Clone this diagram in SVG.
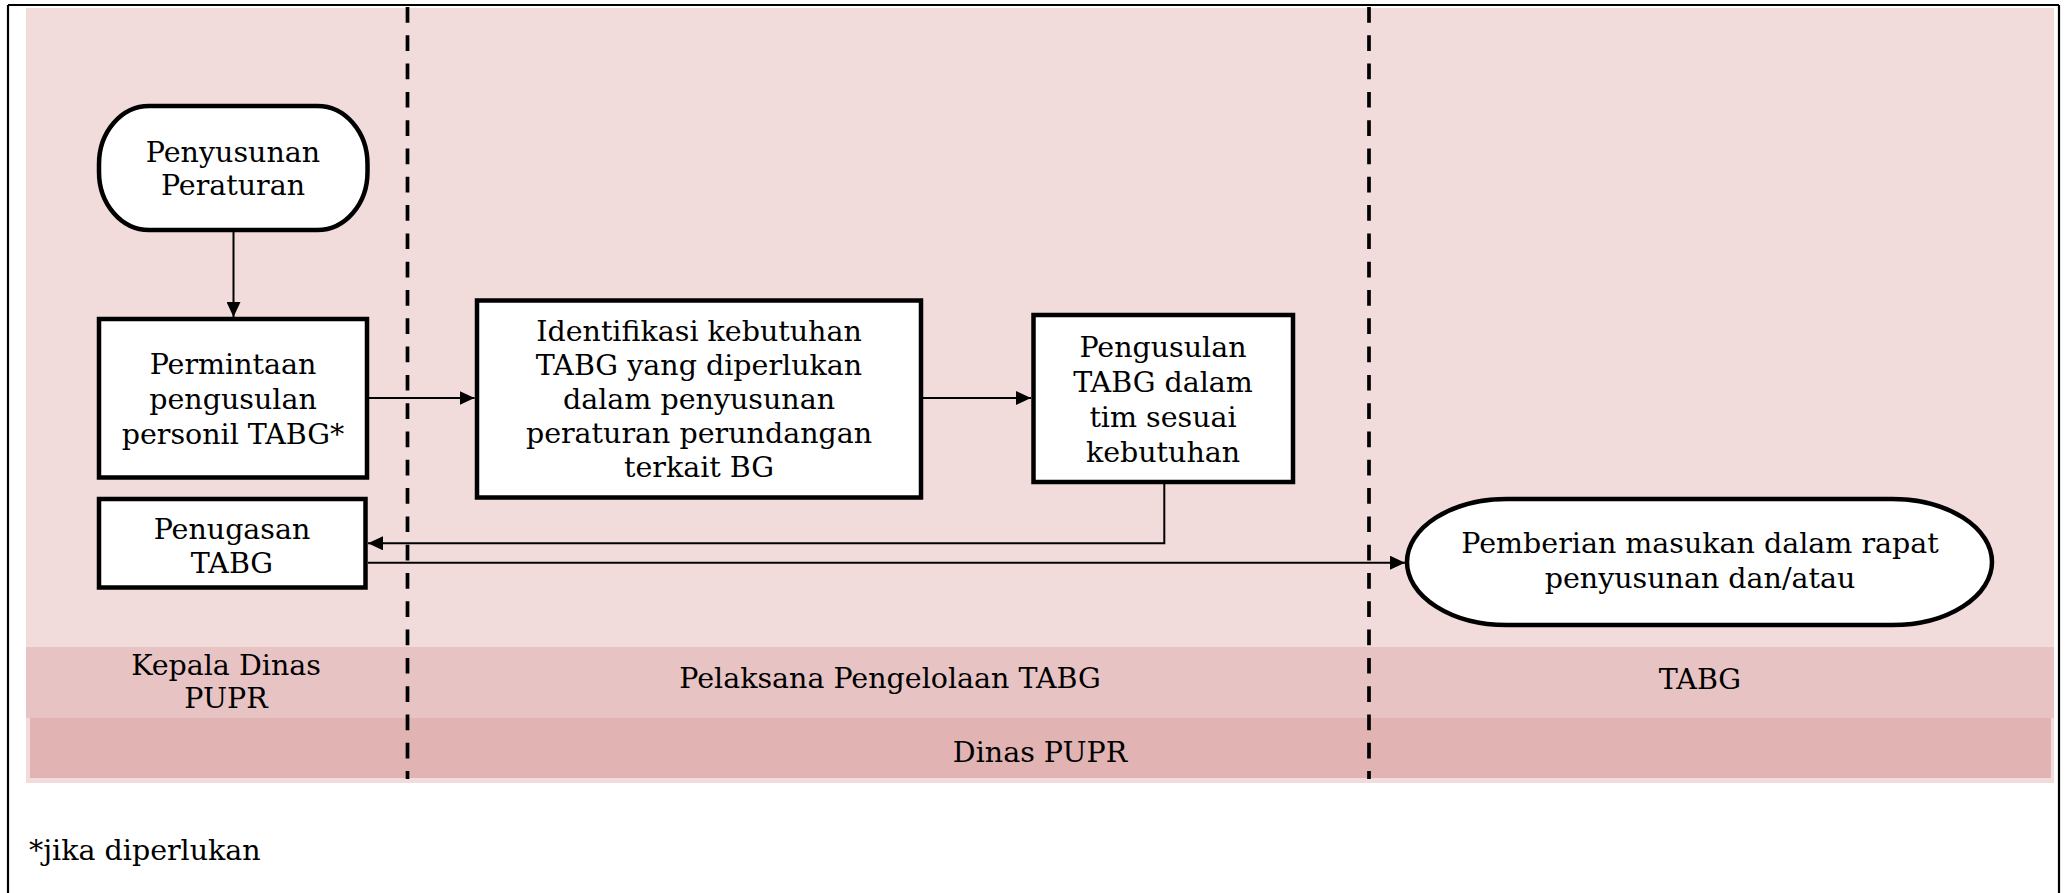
<svg xmlns="http://www.w3.org/2000/svg" width="2067" height="893" viewBox="0 0 2067 893">
<style>
.node{fill:#fff;stroke:#000;stroke-width:4.5}
.t{font-family:"DejaVu Serif","Liberation Serif",serif;font-size:28.5px;fill:#000;text-anchor:middle}
.lane{font-family:"DejaVu Serif","Liberation Serif",serif;font-size:28.5px;fill:#000;text-anchor:middle}
.conn{fill:none;stroke:#000;stroke-width:2}
.dash{stroke:#000;stroke-width:3.7;stroke-dasharray:15.7 12.6;fill:none}
</style>
<defs>
<marker id="ah" markerUnits="userSpaceOnUse" markerWidth="15" markerHeight="14" refX="15" refY="7" orient="auto">
<path d="M0,0 L15,7 L0,14 Z" fill="#000"/>
</marker>
</defs>
<rect x="0" y="0" width="2067" height="893" fill="#fff"/>
<g id="background">
<rect x="26" y="8" width="2028" height="775" fill="#F2DCDB"/>
<rect x="26" y="647" width="2028" height="71" fill="#E8C3C3"/>
<rect x="30" y="718" width="2021" height="60" fill="#E1B3B3"/>
<path d="M8,5 H2059 M8,5 V893 M2059,5 V893" stroke="#000" stroke-width="2.2" fill="none"/>
<line class="dash" x1="407.5" y1="7" x2="407.5" y2="779"/>
<line class="dash" x1="1369" y1="7" x2="1369" y2="779"/>
</g>
<g id="lanes">
<text class="lane" x="226" y="675">Kepala Dinas</text>
<text class="lane" x="226" y="708">PUPR</text>
<text class="lane" x="890" y="688">Pelaksana Pengelolaan TABG</text>
<text class="lane" x="1700" y="689">TABG</text>
<text class="lane" x="1040" y="762">Dinas PUPR</text>
<text class="lane" x="29" y="860" style="text-anchor:start">*jika diperlukan</text>
</g>
<g id="connectors">
<line class="conn" x1="233.5" y1="232" x2="233.5" y2="317" marker-end="url(#ah)"/>
<line class="conn" x1="369" y1="398" x2="474.5" y2="398" marker-end="url(#ah)"/>
<line class="conn" x1="923" y1="398" x2="1031" y2="398" marker-end="url(#ah)"/>
<polyline class="conn" points="1164.3,484 1164.3,543.3 368,543.3" marker-end="url(#ah)"/>
<line class="conn" x1="368" y1="562.7" x2="1405" y2="562.7" marker-end="url(#ah)"/>
</g>
<g id="n-penyusunan">
<rect class="node" x="99" y="106" width="268.5" height="124" rx="50" ry="58"/>
<text class="t" x="233" y="162">Penyusunan</text>
<text class="t" x="233" y="195">Peraturan</text>
</g>
<g id="n-permintaan">
<rect class="node" x="99" y="319" width="268" height="158.5"/>
<text class="t" x="233" y="374">Permintaan</text>
<text class="t" x="233" y="409">pengusulan</text>
<text class="t" x="233" y="444">personil TABG*</text>
</g>
<g id="n-penugasan">
<rect class="node" x="99" y="499" width="266.5" height="88.5"/>
<text class="t" x="232" y="539">Penugasan</text>
<text class="t" x="232" y="573">TABG</text>
</g>
<g id="n-identifikasi">
<rect class="node" x="477" y="300.5" width="444" height="197"/>
<text class="t" x="699" y="341">Identifikasi kebutuhan</text>
<text class="t" x="699" y="375">TABG yang diperlukan</text>
<text class="t" x="699" y="409">dalam penyusunan</text>
<text class="t" x="699" y="443">peraturan perundangan</text>
<text class="t" x="699" y="477">terkait BG</text>
</g>
<g id="n-pengusulan">
<rect class="node" x="1033.5" y="315" width="259.5" height="167"/>
<text class="t" x="1163" y="357">Pengusulan</text>
<text class="t" x="1163" y="392">TABG dalam</text>
<text class="t" x="1163" y="427">tim sesuai</text>
<text class="t" x="1163" y="462">kebutuhan</text>
</g>
<g id="n-pemberian">
<rect class="node" x="1407" y="499" width="585" height="126" rx="100" ry="63"/>
<text class="t" x="1700" y="553">Pemberian masukan dalam rapat</text>
<text class="t" x="1700" y="588">penyusunan dan/atau</text>
</g>
</svg>
